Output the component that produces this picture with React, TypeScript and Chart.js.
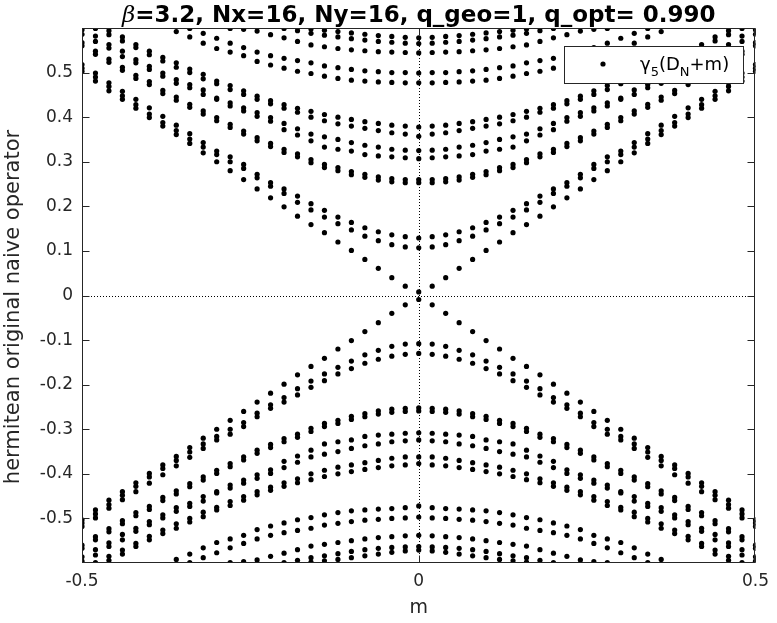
import React, { useEffect, useRef } from "react";
import { Chart, registerables } from "chart.js";
Chart.register(...registerables);

const _ = null;

const mValues = [-0.5,-0.48,-0.46,-0.44,-0.42,-0.4,-0.38,-0.36,-0.34,-0.32,-0.3,-0.28,-0.26,-0.24,-0.22,-0.2,-0.18,-0.16,-0.14,-0.12,-0.1,-0.08,-0.06,-0.04,-0.02,0,0.02,0.04,0.06,0.08,0.1,0.12,0.14,0.16,0.18,0.2,0.22,0.24,0.26,0.28,0.3,0.32,0.34,0.36,0.38,0.4,0.42,0.44,0.46,0.48,0.5];

const xTickValues = [-0.5, 0, 0.5];
const xTickLabels = ["-0.5", "0", "0.5"];
const yTickValues = [-0.5,-0.4,-0.3,-0.2,-0.1,0,0.1,0.2,0.3,0.4,0.5];
const yTickLabels = ["-0.5","-0.4","-0.3","-0.2","-0.1","0","0.1","0.2","0.3","0.4","0.5"];

// ---- upper half bands (eigenvalues > 0), one value per m column ----
const xUp = [0.503,0.481,0.459,0.440,0.420,0.399,0.380,0.361,0.341,0.320,0.300,0.280,0.260,0.239,0.219,0.199,0.178,0.159,0.141,0.120,0.101,0.081,0.061,0.040,0.021,0.008,
  0.021,0.040,0.061,0.081,0.101,0.120,0.141,0.159,0.178,0.199,0.219,0.239,0.260,0.280,0.300,0.320,0.341,0.361,0.380,0.399,0.420,0.440,0.459,0.481,0.503];
const b1Up = [0.510,0.490,0.469,0.448,0.428,0.407,0.388,0.370,0.351,0.333,0.316,0.300,0.285,0.264,0.245,0.229,0.209,0.192,0.176,0.161,0.147,0.133,0.123,0.114,0.109,0.107,
  0.109,0.114,0.123,0.133,0.147,0.161,0.176,0.192,0.209,0.229,0.245,0.264,0.285,0.300,0.316,0.333,0.351,0.370,0.388,0.407,0.428,0.448,0.469,0.490,0.510];
const b2Up = [0.518,0.499,0.477,0.458,0.440,0.421,0.402,0.382,0.363,0.343,0.324,0.311,0.294,0.272,0.253,0.239,0.223,0.206,0.191,0.176,0.164,0.152,0.143,0.136,0.132,0.129,
  0.132,0.136,0.143,0.152,0.164,0.176,0.191,0.206,0.223,0.239,0.253,0.272,0.294,0.311,0.324,0.343,0.363,0.382,0.402,0.421,0.440,0.458,0.477,0.499,0.518];
const c1Up = [0.560,0.541,0.523,0.505,0.487,0.473,0.453,0.438,0.422,0.407,0.392,0.377,0.362,0.347,0.334,0.321,0.311,0.298,0.287,0.280,0.271,0.265,0.259,0.255,0.253,0.253,
  0.253,0.255,0.259,0.265,0.271,0.280,0.287,0.298,0.311,0.321,0.334,0.347,0.362,0.377,0.392,0.407,0.422,0.438,0.453,0.473,0.487,0.505,0.523,0.541,0.560];
const c2Up = [0.567,0.548,0.530,0.512,0.494,0.480,0.460,0.445,0.429,0.414,0.399,0.384,0.369,0.354,0.341,0.328,0.318,0.305,0.294,0.287,0.278,0.272,0.266,0.262,0.260,0.260,
  0.260,0.262,0.266,0.272,0.278,0.287,0.294,0.305,0.318,0.328,0.341,0.354,0.369,0.384,0.399,0.414,0.429,0.445,0.460,0.480,0.494,0.512,0.530,0.548,0.567];
const d1Up = [0.586,0.570,0.555,0.536,0.522,0.507,0.492,0.476,0.466,0.451,0.440,0.425,0.414,0.402,0.391,0.372,0.360,0.347,0.333,0.328,0.324,0.316,0.313,0.311,0.309,0.307,
  0.309,0.311,0.313,0.316,0.324,0.328,0.333,0.347,0.360,0.372,0.391,0.402,0.414,0.425,0.440,0.451,0.466,0.476,0.492,0.507,0.522,0.536,0.555,0.570,0.586];
const d2Up = [0.596,0.582,0.563,0.548,0.529,0.514,0.499,0.484,0.473,0.461,0.443,0.432,0.421,0.410,0.399,0.386,0.374,0.362,0.356,0.350,0.343,0.337,0.333,0.328,0.326,0.325,
  0.326,0.328,0.333,0.337,0.343,0.350,0.356,0.362,0.374,0.386,0.399,0.410,0.421,0.432,0.443,0.461,0.473,0.484,0.499,0.514,0.529,0.548,0.563,0.582,0.596];
const e1Up = [_,0.599,0.585,0.571,0.556,0.540,0.526,0.512,0.500,0.486,0.475,0.462,0.451,0.440,0.430,0.420,0.411,0.400,0.392,0.385,0.380,0.375,0.370,0.365,0.362,0.357,
  0.362,0.365,0.370,0.375,0.380,0.385,0.392,0.400,0.411,0.420,0.430,0.440,0.451,0.462,0.475,0.486,0.500,0.512,0.526,0.540,0.556,0.571,0.585,0.599,_];
const e2Up = [_,_,0.594,0.580,0.563,0.548,0.534,0.522,0.508,0.496,0.481,0.471,0.459,0.447,0.437,0.428,0.420,0.413,0.406,0.400,0.395,0.390,0.386,0.382,0.380,0.378,
  0.380,0.382,0.386,0.390,0.395,0.400,0.406,0.413,0.420,0.428,0.437,0.447,0.459,0.471,0.481,0.496,0.508,0.522,0.534,0.548,0.563,0.580,0.594,_,_];
const f1Up = [_,_,_,_,_,_,_,0.592,0.580,0.566,0.554,0.546,0.538,0.525,0.517,0.510,0.503,0.498,0.492,0.487,0.483,0.481,0.479,0.478,0.477,0.477,
  0.477,0.478,0.479,0.481,0.483,0.487,0.492,0.498,0.503,0.510,0.517,0.525,0.538,0.546,0.554,0.566,0.580,0.592,_,_,_,_,_,_,_];
const f2Up = [_,_,_,_,_,_,_,_,0.599,0.588,0.577,0.566,0.556,0.546,0.538,0.532,0.527,0.522,0.515,0.511,0.507,0.504,0.502,0.500,0.500,0.499,
  0.500,0.500,0.502,0.504,0.507,0.511,0.515,0.522,0.527,0.532,0.538,0.546,0.556,0.566,0.577,0.588,0.599,_,_,_,_,_,_,_,_];
const g1Up = [_,_,_,_,_,_,_,_,_,_,_,0.599,0.597,0.593,0.585,0.578,0.570,0.562,0.558,0.554,0.551,0.549,0.547,0.546,0.545,0.544,
  0.545,0.546,0.547,0.549,0.551,0.554,0.558,0.562,0.570,0.578,0.585,0.593,0.597,0.599,_,_,_,_,_,_,_,_,_,_,_];
const g2Up = [_,_,_,_,_,_,_,_,_,_,_,_,_,_,_,0.599,0.594,0.588,0.584,0.580,0.576,0.573,0.570,0.568,0.566,0.565,
  0.566,0.568,0.570,0.573,0.576,0.580,0.584,0.588,0.594,0.599,_,_,_,_,_,_,_,_,_,_,_,_,_,_,_];
const g3Up = [_,_,_,_,_,_,_,_,_,_,_,_,_,_,_,_,_,0.598,0.595,0.592,0.589,0.586,0.583,0.581,0.579,0.578,
  0.579,0.581,0.583,0.586,0.589,0.592,0.595,0.598,_,_,_,_,_,_,_,_,_,_,_,_,_,_,_,_,_];

// ---- lower half bands (eigenvalues < 0) ----
const xLo = [-0.503,-0.481,-0.459,-0.440,-0.420,-0.399,-0.380,-0.361,-0.341,-0.320,-0.300,-0.280,-0.260,-0.239,-0.219,-0.199,-0.178,-0.159,-0.141,-0.120,-0.101,-0.081,-0.061,-0.040,-0.021,-0.009,
  -0.021,-0.040,-0.061,-0.081,-0.101,-0.120,-0.141,-0.159,-0.178,-0.199,-0.219,-0.239,-0.260,-0.280,-0.300,-0.320,-0.341,-0.361,-0.380,-0.399,-0.420,-0.440,-0.459,-0.481,-0.503];
const b1Lo = [-0.510,-0.490,-0.469,-0.448,-0.428,-0.407,-0.388,-0.370,-0.351,-0.333,-0.316,-0.300,-0.285,-0.264,-0.245,-0.229,-0.209,-0.192,-0.176,-0.161,-0.147,-0.133,-0.123,-0.114,-0.109,-0.108,
  -0.109,-0.114,-0.123,-0.133,-0.147,-0.161,-0.176,-0.192,-0.209,-0.229,-0.245,-0.264,-0.285,-0.300,-0.316,-0.333,-0.351,-0.370,-0.388,-0.407,-0.428,-0.448,-0.469,-0.490,-0.510];
const b2Lo = [-0.518,-0.499,-0.477,-0.458,-0.440,-0.421,-0.402,-0.382,-0.363,-0.343,-0.324,-0.311,-0.294,-0.272,-0.253,-0.239,-0.223,-0.206,-0.191,-0.176,-0.164,-0.152,-0.143,-0.136,-0.132,-0.130,
  -0.132,-0.136,-0.143,-0.152,-0.164,-0.176,-0.191,-0.206,-0.223,-0.239,-0.253,-0.272,-0.294,-0.311,-0.324,-0.343,-0.363,-0.382,-0.402,-0.421,-0.440,-0.458,-0.477,-0.499,-0.518];
const c1Lo = [-0.560,-0.541,-0.523,-0.505,-0.487,-0.473,-0.453,-0.438,-0.422,-0.407,-0.392,-0.377,-0.362,-0.347,-0.334,-0.321,-0.311,-0.298,-0.287,-0.280,-0.271,-0.265,-0.259,-0.255,-0.253,-0.252,
  -0.253,-0.255,-0.259,-0.265,-0.271,-0.280,-0.287,-0.298,-0.311,-0.321,-0.334,-0.347,-0.362,-0.377,-0.392,-0.407,-0.422,-0.438,-0.453,-0.473,-0.487,-0.505,-0.523,-0.541,-0.560];
const c2Lo = [-0.567,-0.548,-0.530,-0.512,-0.494,-0.480,-0.460,-0.445,-0.429,-0.414,-0.399,-0.384,-0.369,-0.354,-0.341,-0.328,-0.318,-0.305,-0.294,-0.287,-0.278,-0.272,-0.266,-0.262,-0.260,-0.259,
  -0.260,-0.262,-0.266,-0.272,-0.278,-0.287,-0.294,-0.305,-0.318,-0.328,-0.341,-0.354,-0.369,-0.384,-0.399,-0.414,-0.429,-0.445,-0.460,-0.480,-0.494,-0.512,-0.530,-0.548,-0.567];
const d1Lo = [-0.586,-0.570,-0.555,-0.536,-0.522,-0.507,-0.492,-0.476,-0.466,-0.451,-0.440,-0.425,-0.414,-0.402,-0.391,-0.372,-0.360,-0.347,-0.333,-0.328,-0.324,-0.316,-0.313,-0.311,-0.309,-0.308,
  -0.309,-0.311,-0.313,-0.316,-0.324,-0.328,-0.333,-0.347,-0.360,-0.372,-0.391,-0.402,-0.414,-0.425,-0.440,-0.451,-0.466,-0.476,-0.492,-0.507,-0.522,-0.536,-0.555,-0.570,-0.586];
const d2Lo = [-0.596,-0.582,-0.563,-0.548,-0.529,-0.514,-0.499,-0.484,-0.473,-0.461,-0.443,-0.432,-0.421,-0.410,-0.399,-0.386,-0.374,-0.362,-0.356,-0.350,-0.343,-0.337,-0.333,-0.328,-0.326,-0.324,
  -0.326,-0.328,-0.333,-0.337,-0.343,-0.350,-0.356,-0.362,-0.374,-0.386,-0.399,-0.410,-0.421,-0.432,-0.443,-0.461,-0.473,-0.484,-0.499,-0.514,-0.529,-0.548,-0.563,-0.582,-0.596];
const e1Lo = [_,-0.599,-0.585,-0.571,-0.556,-0.540,-0.526,-0.512,-0.500,-0.486,-0.475,-0.462,-0.451,-0.440,-0.430,-0.420,-0.411,-0.400,-0.392,-0.385,-0.380,-0.375,-0.370,-0.365,-0.362,-0.362,
  -0.362,-0.365,-0.370,-0.375,-0.380,-0.385,-0.392,-0.400,-0.411,-0.420,-0.430,-0.440,-0.451,-0.462,-0.475,-0.486,-0.500,-0.512,-0.526,-0.540,-0.556,-0.571,-0.585,-0.599,_];
const e2Lo = [_,_,-0.594,-0.580,-0.563,-0.548,-0.534,-0.522,-0.508,-0.496,-0.481,-0.471,-0.459,-0.447,-0.437,-0.428,-0.420,-0.413,-0.406,-0.400,-0.395,-0.390,-0.386,-0.382,-0.380,-0.377,
  -0.380,-0.382,-0.386,-0.390,-0.395,-0.400,-0.406,-0.413,-0.420,-0.428,-0.437,-0.447,-0.459,-0.471,-0.481,-0.496,-0.508,-0.522,-0.534,-0.548,-0.563,-0.580,-0.594,_,_];
const f1Lo = [_,_,_,_,_,_,_,-0.592,-0.580,-0.566,-0.554,-0.546,-0.538,-0.525,-0.517,-0.510,-0.503,-0.498,-0.492,-0.487,-0.483,-0.481,-0.479,-0.478,-0.476,-0.472,
  -0.476,-0.478,-0.479,-0.481,-0.483,-0.487,-0.492,-0.498,-0.503,-0.510,-0.517,-0.525,-0.538,-0.546,-0.554,-0.566,-0.580,-0.592,_,_,_,_,_,_,_];
const f2Lo = [_,_,_,_,_,_,_,_,-0.599,-0.588,-0.577,-0.566,-0.556,-0.546,-0.538,-0.532,-0.527,-0.522,-0.515,-0.511,-0.507,-0.504,-0.502,-0.500,-0.499,-0.497,
  -0.499,-0.500,-0.502,-0.504,-0.507,-0.511,-0.515,-0.522,-0.527,-0.532,-0.538,-0.546,-0.556,-0.566,-0.577,-0.588,-0.599,_,_,_,_,_,_,_,_];
const g1Lo = [_,_,_,_,_,_,_,_,_,_,_,-0.599,-0.597,-0.593,-0.585,-0.578,-0.570,-0.562,-0.558,-0.554,-0.550,-0.546,-0.543,-0.541,-0.539,-0.538,
  -0.539,-0.541,-0.543,-0.546,-0.550,-0.554,-0.558,-0.562,-0.570,-0.578,-0.585,-0.593,-0.597,-0.599,_,_,_,_,_,_,_,_,_,_,_];
const g2Lo = [_,_,_,_,_,_,_,_,_,_,_,_,_,_,_,-0.599,-0.594,-0.588,-0.584,-0.579,-0.574,-0.570,-0.567,-0.565,-0.564,-0.563,
  -0.564,-0.565,-0.567,-0.570,-0.574,-0.579,-0.584,-0.588,-0.594,-0.599,_,_,_,_,_,_,_,_,_,_,_,_,_,_,_];
const g3Lo = [_,_,_,_,_,_,_,_,_,_,_,_,_,_,_,_,_,-0.598,-0.595,-0.592,-0.588,-0.584,-0.580,-0.576,-0.573,-0.571,
  -0.573,-0.576,-0.580,-0.584,-0.588,-0.592,-0.595,-0.598,_,_,_,_,_,_,_,_,_,_,_,_,_,_,_,_,_];

const bands = [xUp,b1Up,b2Up,c1Up,c2Up,d1Up,d2Up,e1Up,e2Up,f1Up,f2Up,g1Up,g2Up,g3Up,
  xLo,b1Lo,b2Lo,c1Lo,c2Lo,d1Lo,d2Lo,e1Lo,e2Lo,f1Lo,f2Lo,g1Lo,g2Lo,g3Lo];

const FONT = "'DejaVu Sans', sans-serif";
const AX = "#262626";

function buildPoints() {
  const pts: { x: number; y: number }[] = [];
  bands.forEach((band) => {
    band.forEach((v, i) => {
      if (v !== null && v !== undefined) pts.push({ x: mValues[i], y: v as number });
    });
  });
  return pts;
}

const decor = {
  id: "decor",
  beforeDatasetsDraw(chart: any) {
    const { ctx, chartArea: a, scales } = chart;
    const x0 = Math.round(scales.x.getPixelForValue(0)) + 0.5;
    const y0 = Math.round(scales.y.getPixelForValue(0)) + 0.5;
    ctx.save();
    ctx.strokeStyle = "#000";
    ctx.lineWidth = 1;
    ctx.setLineDash([1, 2]);
    ctx.beginPath();
    ctx.moveTo(x0, a.top);
    ctx.lineTo(x0, a.bottom);
    ctx.moveTo(a.left, y0);
    ctx.lineTo(a.right, y0);
    ctx.stroke();
    ctx.restore();
  },
  afterDraw(chart: any) {
    const { ctx, chartArea: a, scales } = chart;
    const L = Math.round(a.left) + 0.5, R = Math.round(a.right) - 0.5;
    const T = Math.round(a.top) + 0.5, B = Math.round(a.bottom) - 0.5;
    ctx.save();
    ctx.setLineDash([]);
    ctx.strokeStyle = AX;
    ctx.lineWidth = 1;
    ctx.strokeRect(L, T, R - L, B - T);
    const tl = 7;
    ctx.beginPath();
    yTickValues.forEach((v) => {
      const py = Math.round(scales.y.getPixelForValue(v)) + 0.5;
      ctx.moveTo(L, py); ctx.lineTo(L + tl, py);
      ctx.moveTo(R, py); ctx.lineTo(R - tl, py);
    });
    xTickValues.forEach((v) => {
      const px = Math.round(scales.x.getPixelForValue(v)) + 0.5;
      ctx.moveTo(px, B); ctx.lineTo(px, B - tl);
      ctx.moveTo(px, T); ctx.lineTo(px, T + tl);
    });
    ctx.stroke();

    // title
    const tBeta = "\u03B2";
    const tRest = "=3.2, Nx=16, Ny=16, q_geo=1, q_opt= 0.990";
    ctx.fillStyle = "#000";
    ctx.textBaseline = "alphabetic";
    ctx.textAlign = "left";
    const fBeta = "italic 23px 'DejaVu Serif', serif";
    const fRest = "bold 23px " + FONT;
    ctx.font = fBeta;
    const wb = ctx.measureText(tBeta).width;
    ctx.font = fRest;
    const wr = ctx.measureText(tRest).width;
    const cx = (a.left + a.right) / 2;
    const sx = cx - (wb + wr) / 2;
    ctx.font = fBeta;
    ctx.fillText(tBeta, sx, 22);
    ctx.font = fRest;
    ctx.fillText(tRest, sx + wb, 22);

    // axis labels
    ctx.fillStyle = AX;
    ctx.font = "19px " + FONT;
    ctx.textAlign = "center";
    ctx.fillText("m", cx, 613);
    ctx.save();
    ctx.font = "21px " + FONT;
    ctx.translate(19, 307);
    ctx.rotate(-Math.PI / 2);
    ctx.textBaseline = "alphabetic";
    ctx.fillText("hermitean original naive operator", 0, 0);
    ctx.restore();

    // legend
    const lx = 564.5, ly = 46.5, lw = 179, lh = 37;
    ctx.fillStyle = "#fff";
    ctx.fillRect(lx, ly, lw, lh);
    ctx.strokeStyle = AX;
    ctx.strokeRect(lx, ly, lw, lh);
    ctx.fillStyle = "#000";
    ctx.beginPath();
    ctx.arc(603, 64, 2.6, 0, Math.PI * 2);
    ctx.fill();
    ctx.textAlign = "left";
    const big = "18px " + FONT, small = "13px " + FONT;
    let tx = 640;
    const by = 70, sy = 76;
    const parts: [string, string, number][] = [
      ["\u03B3", big, by], ["5", small, sy], ["(D", big, by], ["N", small, sy], ["+m)", big, by],
    ];
    parts.forEach(([s, f, yy]) => {
      ctx.font = f;
      ctx.fillText(s, tx, yy);
      tx += ctx.measureText(s).width;
    });
    ctx.restore();
  },
};

export default function App() {
  const ref = useRef<HTMLCanvasElement | null>(null);
  useEffect(() => {
    if (!ref.current) return;
    const chart = new Chart(ref.current, {
      type: "scatter",
      data: {
        datasets: [
          {
            label: "gamma5(DN+m)",
            data: buildPoints(),
            pointRadius: 2.6,
            pointBackgroundColor: "#000",
            pointBorderColor: "#000",
            pointBorderWidth: 0,
            showLine: false,
            clip: 0,
          } as any,
        ],
      },
      options: {
        responsive: false,
        animation: false,
        layout: { padding: { top: 28, right: 19, left: 0, bottom: 0 } },
        plugins: { legend: { display: false }, title: { display: false }, tooltip: { enabled: false } },
        scales: {
          x: {
            type: "linear",
            min: -0.5,
            max: 0.5,
            afterBuildTicks: (s: any) => { s.ticks = xTickValues.map((v) => ({ value: v })); },
            afterFit: (s: any) => { s.height = 60; },
            ticks: {
              callback: (_v: any, i: number) => xTickLabels[i],
              font: { family: FONT, size: 17 },
              color: AX,
              padding: 8,
              maxRotation: 0,
              autoSkip: false,
            },
            grid: { display: false, drawTicks: false },
            border: { display: false },
          },
          y: {
            type: "linear",
            min: -0.6,
            max: 0.6,
            afterBuildTicks: (s: any) => { s.ticks = yTickValues.map((v) => ({ value: v })); },
            afterFit: (s: any) => { s.width = 82; },
            ticks: {
              callback: (_v: any, i: number) => yTickLabels[i],
              font: { family: FONT, size: 17 },
              color: AX,
              padding: 9,
              autoSkip: false,
            },
            grid: { display: false, drawTicks: false },
            border: { display: false },
          },
        },
      },
      plugins: [decor],
    });
    return () => chart.destroy();
  }, []);
  return (
    <div style={{ position: "absolute", left: 0, top: 0, width: 777, height: 623, background: "#fff" }}>
      <canvas ref={ref} width={777} height={623} style={{ width: 777, height: 623 }} />
    </div>
  );
}
